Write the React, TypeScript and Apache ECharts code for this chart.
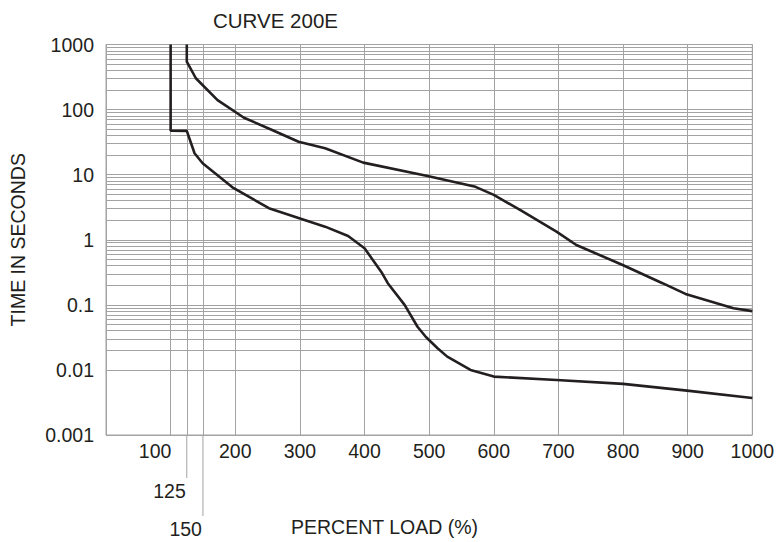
import React, { useEffect, useRef } from "react";
import * as echarts from "echarts";

const TITLE = "CURVE 200E";
const X_NAME = "PERCENT LOAD (%)";
const Y_NAME = "TIME IN SECONDS";

const xTickLabels = [100, 200, 300, 400, 500, 600, 700, 800, 900, 1000];
const xExtraTicks = [125, 150];
const yTickLabels = ["0.001", "0.01", "0.1", "1", "10", "100", "1000"];
const yDecades = [0.001, 0.01, 0.1, 1, 10, 100];
const yMinorMultipliers = [2, 3, 4, 5, 6, 7, 8, 9];

const upperLoad = [125, 125, 139, 172.6, 213.5, 257, 298, 339, 398, 497.5, 571.7, 600, 640.6, 697, 727.7, 799.4, 861, 896.6, 970.8, 1000];
const upperTime = [1000, 545, 303, 140, 75, 48.6, 32, 25.5, 15.3, 9.55, 6.5, 4.9, 2.87, 1.33, 0.83, 0.41, 0.215, 0.147, 0.0887, 0.08];

const lowerLoad = [100, 100, 125, 137, 149.5, 195.6, 252, 339, 374.6, 400, 426, 436, 462, 482, 495, 513, 528, 564, 600, 697, 800, 899, 1000];
const lowerTime = [1000, 47.4, 47, 21.3, 15, 6.4, 3.05, 1.59, 1.14, 0.74, 0.32, 0.215, 0.1, 0.046, 0.032, 0.0215, 0.016, 0.01, 0.0079, 0.007, 0.0061, 0.0048, 0.0037];

const TEXT = "#231f20";
const GRID = "#a3a3a3";
const FONT = "Liberation Sans, Arial, sans-serif";
const FS = 19.5;

export default function App() {
  const ref = useRef<HTMLDivElement>(null);
  useEffect(() => {
    if (!ref.current) return;
    const chart = echarts.init(ref.current, null, { renderer: "svg" });
    const minorY: any[] = [];
    yDecades.forEach((d) => yMinorMultipliers.forEach((m) => minorY.push({ yAxis: +(d * m).toPrecision(3) })));
    const extraX = xExtraTicks.map((v) => ({ xAxis: v }));
    const option: any = {
      animation: false,
      textStyle: { fontFamily: FONT },
      title: {
        text: TITLE,
        left: 208,
        top: 5,
        textStyle: { fontSize: 20.5, fontWeight: "normal", color: TEXT, fontFamily: FONT },
      },
      grid: {
        left: 105,
        right: 20,
        top: 44.5,
        bottom: 107,
        show: true,
        borderColor: GRID,
        borderWidth: 1,
      },
      xAxis: {
        type: "value",
        min: 0,
        max: 1000,
        interval: 100,
        axisLine: { show: false },
        axisTick: { show: false },
        splitLine: { show: true, lineStyle: { color: GRID, width: 1 } },
        axisLabel: {
          margin: 6,
          fontSize: FS,
          color: TEXT,
          fontFamily: FONT,
          formatter: (v: number) => {
            if (!xTickLabels.includes(v)) return "";
            if (v === xTickLabels[0]) return "{l|" + v + "}";
            return String(v);
          },
          rich: { l: { fontSize: FS, color: TEXT, fontFamily: FONT, padding: [0, 31, 0, 0] } },
        },
      },
      yAxis: {
        type: "log",
        logBase: 10,
        min: 0.001,
        max: 1000,
        name: Y_NAME,
        nameLocation: "middle",
        nameGap: 78,
        nameTextStyle: { fontSize: FS, color: TEXT, fontFamily: FONT },
        axisLine: { show: false },
        axisTick: { show: false },
        splitLine: { show: true, lineStyle: { color: GRID, width: 1 } },
        axisLabel: {
          margin: 12,
          fontSize: FS,
          color: TEXT,
          fontFamily: FONT,
          formatter: (v: number) => yTickLabels[Math.round(Math.log10(v)) + 3] ?? "",
        },
      },
      series: [
        {
          type: "line",
          data: [],
          silent: true,
          markLine: {
            silent: true,
            symbol: ["none", "none"],
            label: { show: false },
            lineStyle: { color: GRID, width: 1, type: "solid" },
            data: [...minorY, ...extraX],
          },
        },
        {
          type: "line",
          data: upperLoad.map((x, i) => [x, upperTime[i]]),
          showSymbol: false,
          smooth: false,
          lineStyle: { color: TEXT, width: 2.6 },
          z: 10,
        },
        {
          type: "line",
          data: lowerLoad.map((x, i) => [x, lowerTime[i]]),
          showSymbol: false,
          smooth: false,
          lineStyle: { color: TEXT, width: 2.6 },
          z: 10,
        },
      ],
    };
    chart.setOption(option);

    const yBottom = chart.convertToPixel({ yAxisIndex: 0 }, 0.001) as number;
    const ends = [43, 81];
    const graphics: any[] = [];
    xExtraTicks.forEach((v, i) => {
      const px = chart.convertToPixel({ xAxisIndex: 0 }, v) as number;
      graphics.push({
        type: "line",
        shape: { x1: px, y1: yBottom, x2: px, y2: yBottom + ends[i] },
        style: { stroke: GRID, lineWidth: 1 },
        silent: true,
      });
      graphics.push({
        type: "text",
        x: px - 1,
        y: yBottom + ends[i] + 13,
        style: { text: String(v), fill: TEXT, font: FS + "px " + FONT, textAlign: "right", textVerticalAlign: "middle" },
        silent: true,
      });
    });
    graphics.push({
      type: "text",
      x: 291,
      y: 527,
      style: { text: X_NAME, fill: TEXT, font: FS + "px " + FONT, textAlign: "left", textVerticalAlign: "middle" },
      silent: true,
    });
    chart.setOption({ graphic: graphics });

    return () => chart.dispose();
  }, []);
  return <div ref={ref} style={{ width: 777, height: 542, position: "absolute", left: 0, top: 0 }} />;
}
